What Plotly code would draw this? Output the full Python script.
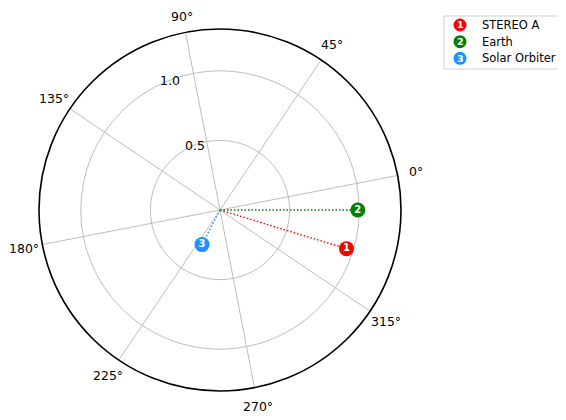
import math
import plotly.graph_objects as go

# ---- data ----
names = ["STEREO A", "Earth", "Solar Orbiter"]
labels = ["1", "2", "3"]
colors = ["red", "green", "dodgerblue"]
r_au = [0.95, 0.99, 0.28]
lon_deg = [332.0, 349.0, 231.5]

theta_ticks = [0, 45, 90, 135, 180, 225, 270, 315]
theta_ticktext = [f"{t}°" for t in theta_ticks]
r_ticks = [0.5, 1.0]
r_ticktext = ["0.5", "1.0"]
r_max = 1.3
rotation = 11
r_label_theta = 100  # angular position (data deg) of the radial tick labels

# page body has an 8px margin -> shift layout by OFF px
OFF = 8
W, H = 566 - OFF, 420 - OFF
FONT = "DejaVu Sans"

# polar placement in page pixels
CX, CY, RAD = 220, 210, 181
LABEL_R = 200  # matplotlib-style angular label radius (px)

fig = go.Figure()

# dotted connection lines from the Sun (centre)
for n, c, r, t in zip(names, colors, r_au, lon_deg):
    fig.add_trace(go.Scatterpolar(
        r=[0, r], theta=[t, t], mode="lines",
        line=dict(color=c, width=1.4, dash="1.5px,2px"),
        showlegend=False, hoverinfo="skip"))

# numbered markers
for n, lab, c, r, t in zip(names, labels, colors, r_au, lon_deg):
    fig.add_trace(go.Scatterpolar(
        r=[r], theta=[t], mode="markers+text", name=n,
        marker=dict(size=15, color=c, line=dict(width=0)),
        text=[lab], textposition="middle center",
        textfont=dict(color="white", size=10, family=FONT, weight="bold"),
        showlegend=False))


def px(x):
    return (x - OFF) / W


def py(y):
    return 1 - (y - OFF) / H


annotations = []
# angular tick labels, centred at a fixed radius like matplotlib
for t, txt in zip(theta_ticks, theta_ticktext):
    a = math.radians(t + rotation)
    x = CX + LABEL_R * math.cos(a)
    y = max(CY - LABEL_R * math.sin(a), 16.5)
    annotations.append(dict(x=px(x), y=py(y), xref="paper", yref="paper",
                            text=txt, showarrow=False, borderpad=0,
                            xanchor="center", yanchor="middle",
                            font=dict(color="black", size=12.5, family=FONT)))

# radial tick labels, centred on their radius along r_label_theta
scale = RAD / r_max
for v, txt in zip(r_ticks, r_ticktext):
    a = math.radians(r_label_theta + rotation)
    x = CX + v * scale * math.cos(a)
    y = CY - v * scale * math.sin(a)
    annotations.append(dict(x=px(x), y=py(y), xref="paper", yref="paper",
                            text=txt, showarrow=False, borderpad=0,
                            xanchor="center", yanchor="middle",
                            font=dict(color="black", size=12.5, family=FONT)))

# ---- manual legend (shapes + annotations) ----
shapes = [dict(type="rect", xref="paper", yref="paper",
               x0=px(444), x1=px(559), y0=py(69), y1=py(16),
               line=dict(color="#d0d0d0", width=1), fillcolor="white", layer="below")]
leg_y = [25, 41.7, 58.3]
for n, lab, c, yy in zip(names, labels, colors, leg_y):
    shapes.append(dict(type="circle", xref="paper", yref="paper",
                       xsizemode="pixel", ysizemode="pixel",
                       xanchor=px(460), yanchor=py(yy),
                       x0=-6.5, x1=6.5, y0=-6.5, y1=6.5,
                       fillcolor=c, line=dict(width=0), layer="above"))
    annotations.append(dict(x=px(460), y=py(yy), xref="paper", yref="paper",
                            text=f"<b>{lab}</b>", showarrow=False,
                            xanchor="center", yanchor="middle",
                            font=dict(color="white", size=9.5, family=FONT)))
    annotations.append(dict(x=px(480), y=py(yy), xref="paper", yref="paper",
                            text=n, showarrow=False,
                            xanchor="left", yanchor="middle",
                            font=dict(color="black", size=11.5, family=FONT)))

fig.update_layout(
    width=W, height=H,
    margin=dict(l=0, r=0, t=0, b=0),
    paper_bgcolor="white",
    font=dict(family=FONT, color="black"),
    showlegend=False,
    shapes=shapes,
    annotations=annotations,
    polar=dict(
        domain=dict(x=[px(CX - RAD), px(CX + RAD)], y=[py(CY + RAD), py(CY - RAD)]),
        bgcolor="white",
        angularaxis=dict(
            rotation=rotation, direction="counterclockwise",
            tickmode="array", tickvals=theta_ticks, ticktext=theta_ticktext,
            showticklabels=False, ticks="",
            showline=True, linecolor="black", linewidth=1.6,
            showgrid=True, gridcolor="#bdbdbd", gridwidth=0.8,
        ),
        radialaxis=dict(
            range=[0, r_max], tickmode="array", tickvals=r_ticks, ticktext=r_ticktext,
            showticklabels=False, showline=False, ticks="",
            showgrid=True, gridcolor="#bdbdbd", gridwidth=0.8,
        ),
    ),
)

fig.write_html("out.html")
